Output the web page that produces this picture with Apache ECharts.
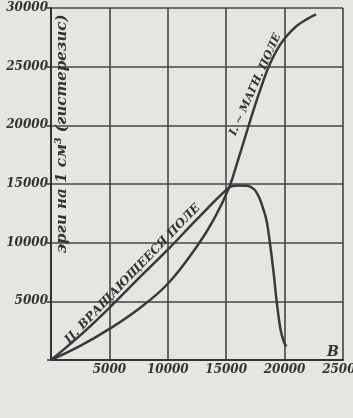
<!DOCTYPE html>
<html><head><meta charset="utf-8">
<script src="https://cdn.jsdelivr.net/npm/echarts@6/dist/echarts.min.js"></script>
<style>html,body{margin:0;padding:0;background:#e5e5e2}#c{width:353px;height:418px}</style>
</head><body><div id="c"></div>
<script>
// Axis ticks
const xTicks = [0, 5000, 10000, 15000, 20000, 25000];
const yTicks = [0, 5000, 10000, 15000, 20000, 25000, 30000];
// I. alternating magnetic field (B, hysteresis ergs/cm3)
const alternatingB = [0, 2500, 5000, 7500, 10000, 12500, 14000, 15250, 16000, 16900, 17700, 18600, 19300, 20000, 21000, 22000, 22700];
const alternatingW = [0, 1200, 2650, 4350, 6500, 9700, 12100, 14700, 17000, 19900, 22400, 24900, 26350, 27400, 28450, 29100, 29450];
// II. rotating field
const rotatingB = [0, 2500, 5000, 7500, 10000, 12500, 15250, 16000, 16800, 17400, 17800, 18100, 18450, 18700, 19030, 19320, 19650, 19950, 20150];
const rotatingW = [0, 2100, 4450, 6950, 9400, 12000, 14700, 14870, 14850, 14550, 13900, 13100, 11900, 10300, 7700, 5000, 2600, 1500, 1150];
// Texts
const yTitle = 'эрги на 1 см³ (гистерезис)';
const label1 = 'I. ∼ МАГН. ПОЛЕ';
const label2 = 'II. ВРАЩАЮЩЕЕСЯ ПОЛЕ';
const xName = 'B';
const caption = 'Рис. 99.';

const ink = '#333';
const chart = echarts.init(document.getElementById('c'), null, {renderer: 'canvas'});
const pairs = (xs, ys) => xs.map((x, i) => [x, ys[i]]);
const interp = (xs, ys, x) => {
  for (let i = 1; i < xs.length; i++) if (x <= xs[i]) return ys[i - 1] + (ys[i] - ys[i - 1]) * (x - xs[i - 1]) / (xs[i] - xs[i - 1]);
  return ys[ys.length - 1];
};
const axisCommon = {
  type: 'value', min: 0, interval: 5000,
  axisLine: {show: true, lineStyle: {color: ink, width: 2}},
  splitLine: {show: true, lineStyle: {color: '#444', width: 1.6}},
  axisLabel: {formatter: v => v === 0 ? '' : String(v), color: ink, fontFamily: 'DejaVu Serif', fontStyle: 'italic', fontWeight: 'bold', fontSize: 12}
};
chart.setOption({
  animation: false,
  backgroundColor: '#e5e5e2',
  grid: {left: 51, right: 10, top: 8, bottom: 58, show: false, containLabel: false, outerBoundsMode: 'none'},
  xAxis: Object.assign({}, axisCommon, {max: xTicks[xTicks.length - 1], axisTick: {show: false},
    axisLabel: Object.assign({}, axisCommon.axisLabel, {margin: 4})}),
  yAxis: Object.assign({}, axisCommon, {max: yTicks[yTicks.length - 1], axisTick: {show: true, length: 4, lineStyle: {color: ink, width: 1.5}},
    axisLabel: Object.assign({}, axisCommon.axisLabel, {margin: 3})}),
  series: [
    {type: 'line', data: pairs(alternatingB, alternatingW), smooth: 0.4, symbol: 'none', lineStyle: {color: '#3a3a3a', width: 2.5}},
    {type: 'line', data: pairs(rotatingB, rotatingW), smooth: 0.3, symbol: 'none', lineStyle: {color: '#3a3a3a', width: 2.5}}
  ]
});
const p = (x, y) => chart.convertToPixel({gridIndex: 0}, [x, y]);
const a2 = 46 * Math.PI / 180, a1 = 65.7 * Math.PI / 180;
const off = (pt, a, d) => [pt[0] - Math.sin(a) * d, pt[1] - Math.cos(a) * d];
const t2 = off(p(7450, interp(rotatingB, rotatingW, 7450)), a2, 1.5);
const t1 = off(p(18000, interp(alternatingB, alternatingW, 18000)), a1, 1);
const ty = p(940, 19260), tb = p(24140, 680), tc = p(9800, -7650);
chart.setOption({graphic: [
  {type: 'text', x: ty[0], y: ty[1], rotation: Math.PI / 2, style: {text: yTitle, font: 'italic bold 15px "DejaVu Serif"', fill: ink, align: 'center', verticalAlign: 'middle'}},
  {type: 'text', x: t2[0], y: t2[1], rotation: a2, style: {text: label2, font: 'italic bold 12px "DejaVu Serif"', fill: ink, align: 'center', verticalAlign: 'bottom'}},
  {type: 'text', x: t1[0], y: t1[1], rotation: a1, style: {text: label1, font: 'italic bold 11px "DejaVu Serif"', fill: ink, align: 'center', verticalAlign: 'bottom'}},
  {type: 'text', x: tb[0], y: tb[1], style: {text: xName, font: 'italic bold 14px "DejaVu Serif"', fill: ink, align: 'center', verticalAlign: 'middle'}},
  {type: 'text', x: tc[0], y: tc[1], style: {text: caption, font: '16px "DejaVu Sans"', fill: '#3a3a3a', align: 'center', verticalAlign: 'middle'}}
]});
</script></body></html>
